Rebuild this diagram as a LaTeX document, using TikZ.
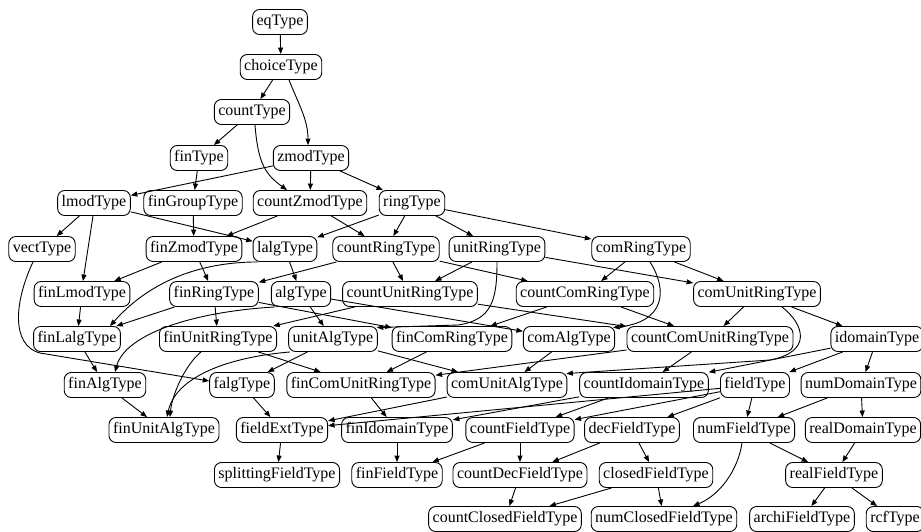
\documentclass[tikz,border=0pt]{standalone}
\usepackage{fontspec}
\setmainfont{Liberation Serif}
\usetikzlibrary{arrows.meta}
\begin{document}
\begin{tikzpicture}[x=1pt,y=1pt,
  box/.style={draw, line width=0.9pt, rounded corners=7pt, inner xsep=4pt, inner ysep=0pt,
    minimum height=25pt, font=\fontsize{16}{18}\selectfont, text height=11pt, text depth=3.5pt},
  arr/.style={line width=0.9pt, -{Triangle[length=6.5pt,width=5pt]}}]
\useasboundingbox (0,0) rectangle (921,-531);
% row 1
\node[box] (eqType) at (280,-22) {eqType};
% row 2
\node[box] (choiceType) at (281,-67) {choiceType};
% row 3
\node[box] (countType) at (252,-112) {countType};
% row 4
\node[box] (finType) at (199,-158) {finType};
\node[box] (zmodType) at (311,-158) {zmodType};
% row 5
\node[box] (lmodType) at (94,-203) {lmodType};
\node[box] (finGroupType) at (193,-203) {finGroupType};
\node[box] (countZmodType) at (310,-203) {countZmodType};
\node[box] (ringType) at (412,-203) {ringType};
% row 6
\node[box] (vectType) at (42,-249) {vectType};
\node[box] (finZmodType) at (194,-249) {finZmodType};
\node[box] (lalgType) at (285,-249) {lalgType};
\node[box] (countRingType) at (386,-249) {countRingType};
\node[box] (unitRingType) at (497,-249) {unitRingType};
\node[box] (comRingType) at (641,-249) {comRingType};
% row 7
\node[box] (finLmodType) at (82,-294) {finLmodType};
\node[box] (finRingType) at (214,-294) {finRingType};
\node[box] (algType) at (301,-294) {algType};
\node[box] (countUnitRingType) at (410,-294) {countUnitRingType};
\node[box] (countComRingType) at (585,-294) {countComRingType};
\node[box] (comUnitRingType) at (757,-294) {comUnitRingType};
% row 8
\node[box] (finLalgType) at (77,-339) {finLalgType};
\node[box] (finUnitRingType) at (218,-339) {finUnitRingType};
\node[box] (unitAlgType) at (333,-339) {unitAlgType};
\node[box] (finComRingType) at (452,-339) {finComRingType};
\node[box] (comAlgType) at (569,-339) {comAlgType};
\node[box] (countComUnitRingType) at (710,-339) {countComUnitRingType};
\node[box] (idomainType) at (877,-339) {idomainType};
% row 9
\node[box] (finAlgType) at (105,-385) {finAlgType};
\node[box] (falgType) at (242,-385) {falgType};
\node[box] (finComUnitRingType) at (361,-385) {finComUnitRingType};
\node[box] (comUnitAlgType) at (507,-385) {comUnitAlgType};
\node[box] (countIdomainType) at (644,-385) {countIdomainType};
\node[box] (fieldType) at (755,-385) {fieldType};
\node[box] (numDomainType) at (861,-385) {numDomainType};
% row 10
\node[box] (finUnitAlgType) at (164,-430) {finUnitAlgType};
\node[box] (fieldExtType) at (282,-430) {fieldExtType};
\node[box] (finIdomainType) at (397,-430) {finIdomainType};
\node[box] (countFieldType) at (520,-430) {countFieldType};
\node[box] (decFieldType) at (632,-430) {decFieldType};
\node[box] (numFieldType) at (744,-430) {numFieldType};
\node[box] (realDomainType) at (863,-430) {realDomainType};
% row 11
\node[box] (splittingFieldType) at (277,-475) {splittingFieldType};
\node[box] (finFieldType) at (397,-475) {finFieldType};
\node[box] (countDecFieldType) at (520,-475) {countDecFieldType};
\node[box] (closedFieldType) at (656,-475) {closedFieldType};
\node[box] (realFieldType) at (834,-475) {realFieldType};
% row 12
\node[box] (countClosedFieldType) at (505,-519) {countClosedFieldType};
\node[box] (numClosedFieldType) at (664,-519) {numClosedFieldType};
\node[box] (archiFieldType) at (802,-519) {archiFieldType};
\node[box] (rcfType) at (895,-519) {rcfType};

% straight edges
\foreach \a/\b in {eqType/choiceType, choiceType/countType, countType/finType,
  finType/finGroupType, zmodType/lmodType, zmodType/countZmodType, zmodType/ringType,
  lmodType/vectType, lmodType/lalgType, finGroupType/finZmodType,
  countZmodType/finZmodType, countZmodType/countRingType, ringType/lalgType,
  ringType/countRingType, ringType/unitRingType, ringType/comRingType,
  finZmodType/finLmodType, finZmodType/finRingType, lalgType/algType,
  countRingType/finRingType, countRingType/countUnitRingType, countRingType/countComRingType,
  unitRingType/countUnitRingType, unitRingType/comUnitRingType,
  comRingType/countComRingType, comRingType/comUnitRingType,
  finLmodType/finLalgType, finRingType/finLalgType, finRingType/finUnitRingType,
  finRingType/finComRingType, algType/unitAlgType, algType/comAlgType,
  countUnitRingType/finUnitRingType, countUnitRingType/countComUnitRingType,
  countComRingType/finComRingType, countComRingType/countComUnitRingType,
  comUnitRingType/countComUnitRingType, comUnitRingType/idomainType,
  finLalgType/finAlgType, finUnitRingType/finComUnitRingType,
  unitAlgType/falgType, unitAlgType/comUnitAlgType, finComRingType/finComUnitRingType,
  comAlgType/comUnitAlgType, countComUnitRingType/finComUnitRingType,
  countComUnitRingType/countIdomainType, idomainType/countIdomainType,
  idomainType/fieldType, idomainType/numDomainType, finAlgType/finUnitAlgType,
  falgType/fieldExtType, finComUnitRingType/finIdomainType, comUnitAlgType/fieldExtType,
  countIdomainType/finIdomainType, countIdomainType/countFieldType,
  fieldType/fieldExtType, fieldType/countFieldType, fieldType/decFieldType,
  fieldType/numFieldType, numDomainType/numFieldType, numDomainType/realDomainType,
  fieldExtType/splittingFieldType, finIdomainType/finFieldType,
  countFieldType/finFieldType, countFieldType/countDecFieldType,
  decFieldType/countDecFieldType, decFieldType/closedFieldType,
  numFieldType/realFieldType, realDomainType/realFieldType,
  countDecFieldType/countClosedFieldType, closedFieldType/countClosedFieldType,
  closedFieldType/numClosedFieldType, realFieldType/archiFieldType, realFieldType/rcfType}
  \draw[arr] (\a) -- (\b);

% curved / long edges
\draw[arr] ([xshift=8pt]choiceType.south) .. controls +(10,-25) and +(0,25) .. ([xshift=-3pt]zmodType.north);
\draw[arr] ([xshift=3pt]countType.south) .. controls +(3,-38) and +(-22,16) .. ([xshift=-23pt]countZmodType.north);
\draw[arr] ([xshift=-1pt]lmodType.south) -- ([xshift=1pt]finLmodType.north);
\draw[arr] ([xshift=-27pt]lalgType.south) .. controls (185,-262) and (140,-292) .. ([xshift=33pt]finLalgType.north);
\draw[arr] (unitRingType.south) .. controls (497,-300) and (492,-320) .. (458,-325) -- ([xshift=-1pt,yshift=-1.5pt]unitAlgType.north east);
\draw[arr] ([xshift=9pt]comRingType.south) .. controls (668,-290) and (665,-322) .. ([xshift=-2pt,yshift=-1.5pt]comAlgType.north east);
\draw[arr] ([xshift=25pt]comUnitRingType.south) .. controls (805,-325) and (812,-352) .. (770,-360) -- ([xshift=-1pt,yshift=-1.5pt]comUnitAlgType.north east);
\draw[arr] ([xshift=-26pt]algType.south) .. controls (190,-312) and (125,-335) .. ([xshift=10pt]finAlgType.north);
\draw[arr] ([xshift=-17pt]finUnitRingType.south) .. controls (185,-365) and (172,-395) .. ([xshift=6pt]finUnitAlgType.north);
\draw[arr] ([xshift=-43pt]unitAlgType.south) .. controls (220,-358) and (175,-380) .. ([xshift=3pt]finUnitAlgType.north);
\draw[arr] ([xshift=-9pt]vectType.south) .. controls (15,-300) and (10,-345) .. (40,-353) -- ([yshift=4pt]falgType.west);
\draw[arr] ([xshift=-2pt]numFieldType.south) .. controls (738,-470) and (720,-495) .. ([xshift=29pt]numClosedFieldType.north);
\end{tikzpicture}
\end{document}
